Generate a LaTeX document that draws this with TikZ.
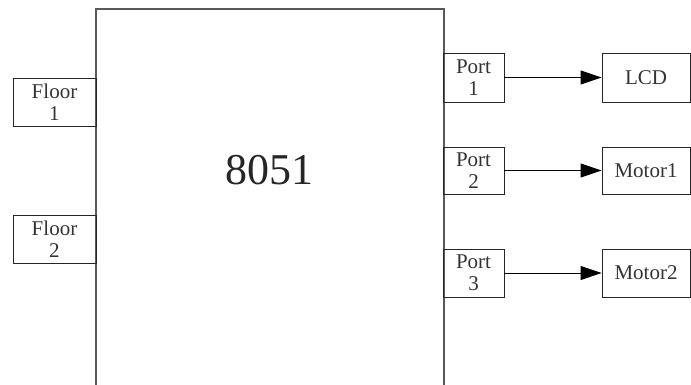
\documentclass[tikz,border=0pt]{standalone}
\usepackage{fontspec}
\setmainfont{Liberation Serif}
\usetikzlibrary{arrows.meta}
\tikzset{
  blk/.style={draw=black!85, line width=0.9pt, rectangle, inner sep=0pt, align=center,
    font=\fontsize{21}{22}\selectfont, text=black!80},
  conn/.style={draw=black, line width=0.9pt, -{Triangle[length=21pt,width=14pt]}},
  chip/.style={draw=black!65, line width=1.1pt}
}
\begin{document}
\begin{tikzpicture}[x=1pt,y=-1pt]
\useasboundingbox (0,0) rectangle (691,385);
% main 8051 block (open at bottom)
\coordinate (cbl) at (96,385);
\coordinate (ctl) at (96,9);
\coordinate (ctr) at (444,9);
\coordinate (cbr) at (444,385);
\draw[chip] (cbl) -- (ctl) -- (ctr) -- (cbr);
\node[font=\fontsize{44}{46}\selectfont, text=black!85] (mcu) at (269,170) {8051};
% floor inputs
\node[blk, minimum width=83pt, minimum height=48pt] (f1) at (54.5,102) {Floor\\1};
\node[blk, minimum width=83pt, minimum height=48pt] (f2) at (54.5,239) {Floor\\2};
% ports
\node[blk, minimum width=61pt, minimum height=49pt] (p1) at (473.5,77.5) {Port\\1};
\node[blk, minimum width=61pt, minimum height=47pt] (p2) at (473.5,170.5) {Port\\2};
\node[blk, minimum width=61pt, minimum height=48pt] (p3) at (473.5,273) {Port\\3};
% outputs
\node[blk, minimum width=88pt, minimum height=49pt] (lcd) at (646,77.5) {LCD};
\node[blk, minimum width=88pt, minimum height=47pt] (m1) at (646,170.5) {Motor1};
\node[blk, minimum width=88pt, minimum height=48pt] (m2) at (646,273) {Motor2};
% connectors
\draw[conn] (p1) -- (lcd);
\draw[conn] (p2) -- (m1);
\draw[conn] (p3) -- (m2);
\end{tikzpicture}
\end{document}
